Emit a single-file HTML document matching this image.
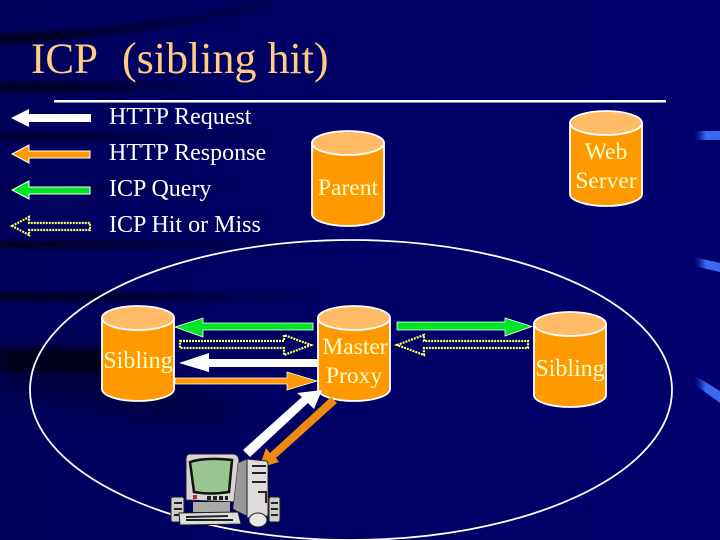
<!DOCTYPE html>
<html><head><meta charset="utf-8"><style>
html,body{margin:0;padding:0;background:#00006a}
svg{display:block}
text{font-family:"Liberation Serif",serif;fill:#fff}
</style></head><body>
<svg width="720" height="540" viewBox="0 0 720 540" xmlns="http://www.w3.org/2000/svg">
<defs>
<linearGradient id="bg" x1="0" y1="0" x2="1" y2="0"><stop offset="0" stop-color="#00005c"/><stop offset=".5" stop-color="#000066"/><stop offset="1" stop-color="#00006e"/></linearGradient>
<linearGradient id="fade" x1="0" y1="0" x2="1" y2="0"><stop offset="0" stop-color="#000014" stop-opacity=".95"/><stop offset=".6" stop-color="#000014" stop-opacity=".45"/><stop offset="1" stop-color="#000014" stop-opacity="0"/></linearGradient>
<linearGradient id="blue" x1="0" y1="0" x2="1" y2="0"><stop offset="0" stop-color="#1a38b0" stop-opacity="0"/><stop offset=".45" stop-color="#3a68f0"/><stop offset="1" stop-color="#3a68f0"/></linearGradient>
<filter id="b3" x="-20%" y="-100%" width="140%" height="300%"><feGaussianBlur stdDeviation="2"/></filter>
<filter id="b20" x="-30%" y="-60%" width="160%" height="220%"><feGaussianBlur stdDeviation="14"/></filter>
</defs>
<rect width="720" height="540" fill="url(#bg)"/>
<path d="M0 350L100 350L260 420L180 420L0 390Z" fill="#000020" opacity=".55" filter="url(#b20)"/>
<rect x="0" y="348" width="120" height="24" fill="#000014" opacity=".8" filter="url(#b3)"/>
<path d="M0 34Q150 30 260 0L300 0Q170 34 0 44Z" fill="url(#fade)" filter="url(#b3)"/>
<rect x="0" y="82" width="220" height="10" fill="url(#fade)" filter="url(#b3)"/>
<rect x="0" y="133" width="280" height="8" fill="url(#fade)" filter="url(#b3)" opacity=".7"/>
<rect x="0" y="186" width="260" height="5" fill="url(#fade)" filter="url(#b3)" opacity=".5"/>
<rect x="0" y="241" width="320" height="7" fill="url(#fade)" filter="url(#b3)"/>
<rect x="0" y="293" width="340" height="8" fill="url(#fade)" filter="url(#b3)"/>
<rect x="694" y="131" width="26" height="9" fill="url(#blue)"/>
<path d="M694 257L720 263L720 272L694 266Z" fill="url(#blue)"/>
<path d="M694 375L720 391L720 403L694 384Z" fill="url(#blue)"/>

<text x="31" y="73" font-size="43" style="fill:#ffcc80">ICP</text>
<text x="122" y="73" font-size="44" style="fill:#ffcc80">(sibling hit)</text>
<rect x="54" y="100" width="612" height="2.5" fill="#fff"/>

<g font-size="24">
<text x="109" y="124">HTTP Request</text>
<text x="109" y="160">HTTP Response</text>
<text x="109" y="196">ICP Query</text>
<text x="109" y="232">ICP Hit or Miss</text>
</g>

<ellipse cx="351" cy="390" rx="321" ry="150" fill="none" stroke="#fff" stroke-width="1.8"/>

<!-- legend arrows -->
<path d="M11 118L29 109V114H91V122H29V127Z" fill="#fff"/>
<path d="M12 154L29 145V151H90V158H29V163Z" fill="#ff9900" stroke="#fff" stroke-width="1"/>
<path d="M12 190L29 181V187H90V194H29V199Z" fill="#00e626" stroke="#fff" stroke-width="1"/>
<path d="M12 226L29 217V223H90V230H29V235Z" fill="none" stroke="#ffff66" stroke-width="2.200" stroke-dasharray="2 1"/>

<!-- cylinders -->
<g stroke="#fff" stroke-width="1.800">
<path d="M102 318V389A36 12 0 0 0 174 389V318Z" fill="#ff9900"/><ellipse cx="138" cy="318" rx="36" ry="12" fill="#ffbb66"/>
<path d="M318 318V389A36 12 0 0 0 390 389V318Z" fill="#ff9900"/><ellipse cx="354" cy="318" rx="36" ry="12" fill="#ffbb66"/>
<path d="M534 324V395A36 12 0 0 0 606 395V324Z" fill="#ff9900"/><ellipse cx="570" cy="324" rx="36" ry="12" fill="#ffbb66"/>
<path d="M570 123V194A36 12 0 0 0 642 194V123Z" fill="#ff9900"/><ellipse cx="606" cy="123" rx="36" ry="12" fill="#ffbb66"/>
<path d="M312 143V214A36 12 0 0 0 384 214V143Z" fill="#ff9900"/><ellipse cx="348" cy="143" rx="36" ry="12" fill="#ffbb66"/>
</g>
<g font-size="23.500" text-anchor="middle">
<text x="138" y="368" font-size="24" style="fill:#ffffcc">Sibling</text>
<text x="355" y="354" style="fill:#ffffcc">Master</text>
<text x="354" y="383" style="fill:#ffffcc">Proxy</text>
<text x="570" y="376" font-size="24" style="fill:#ffffcc">Sibling</text>
<text x="606" y="159" style="fill:#ffffcc">Web</text>
<text x="606" y="188" style="fill:#ffffcc">Server</text>
<text x="348" y="195" style="fill:#ffffcc">Parent</text>
</g>

<!-- connectors -->
<path d="M175 327L203 318V323H313V330H203V337Z" fill="#00e626" stroke="#fff" stroke-width=".8"/>
<path d="M397 322H505V318L532 326.500L505 336V330H397Z" fill="#00e626" stroke="#fff" stroke-width=".8"/>
<path d="M180 341H284V335L311 345L284 355V348H180Z" fill="none" stroke="#ffff66" stroke-width="2.200" stroke-dasharray="2 1"/>
<path d="M397 345L424 335V341H528V348H424V355Z" fill="none" stroke="#ffff66" stroke-width="2.200" stroke-dasharray="2 1"/>
<path d="M179 363L209 353V359H318V367H209V372Z" fill="#fff"/>
<path d="M175 378H287V372L317 381L287 390V384H175Z" fill="#ff9900" stroke="#fff" stroke-width=".8"/>
<path d="M322 390L314 409L308 403L250 457L243 450L302 397L297 393Z" fill="#fff"/>
<path d="M331 397L337 403L276 458L279 462L259 468L266 448L270 453Z" fill="#ee8a10"/>

<!-- computer -->
<path d="M186 459Q186 454 190 454H232Q239 454 239 461L237 502L186 500Z" fill="#d8d4d4" stroke="#222" stroke-width="1"/>
<path d="M190 462Q205 457 232 460L229 492Q210 495 194 492Z" fill="#99c690" stroke="#111" stroke-width="2.500"/>
<rect x="193" y="502" width="37" height="10" fill="#aaa"/>
<rect x="193" y="495" width="4" height="4" fill="#c22"/>
<path d="M207 496h4v4h-4zM213 496h4v4h-4zM219 496h4v4h-4zM225 496h3v4h-3z" fill="#222"/>
<path d="M238 463L247 459V516L233 509Z" fill="#999" stroke="#333" stroke-width=".6"/>
<path d="M247 459L266 461Q268 461 268 465V516L247 518Z" fill="#e0dcdc" stroke="#222" stroke-width="1"/>
<path d="M252 466H266M252 473H266M252 482H266M258 492H266V503" stroke="#222" stroke-width="2" fill="none"/>
<rect x="171" y="497" width="13" height="25" rx="2" fill="#ccc" stroke="#222"/>
<path d="M174 503h8M174 509h8M174 515h8" stroke="#222" stroke-width="2"/>
<rect x="269" y="497" width="11" height="25" rx="2" fill="#ccc" stroke="#222"/>
<path d="M271 503h7M271 509h7M271 515h7" stroke="#222" stroke-width="2"/>
<path d="M179 513L238 512L241 524L180 525Z" fill="#ddd" stroke="#222"/>
<path d="M186 517L228 516M186 520L233 520" stroke="#222" stroke-width="2"/>
<ellipse cx="258" cy="520" rx="9" ry="7" fill="#e8e8e8" stroke="#222"/>
</svg>
</body></html>
